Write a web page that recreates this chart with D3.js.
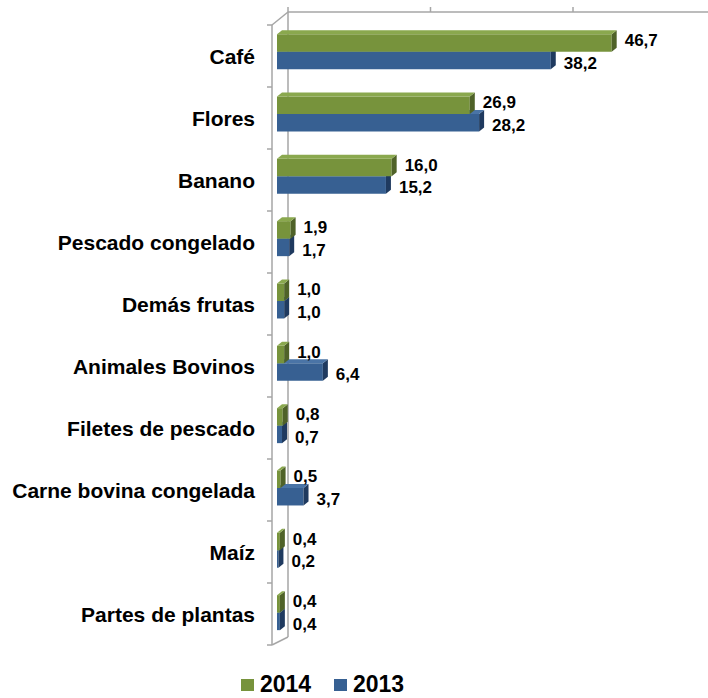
<!DOCTYPE html>
<html>
<head>
<meta charset="utf-8">
<script src="https://cdn.jsdelivr.net/npm/d3@7"></script>
<style>
  html, body { margin: 0; padding: 0; background: #fff; }
  svg { display: block; font-family: "Liberation Sans", Arial, sans-serif; }
</style>
</head>
<body>
<svg id="chart" width="708" height="698"></svg>
<script>
const categories = ["Café", "Flores", "Banano", "Pescado congelado", "Demás frutas",
  "Animales Bovinos", "Filetes de pescado", "Carne bovina congelada", "Maíz", "Partes de plantas"];
const values2014 = [46.7, 26.9, 16.0, 1.9, 1.0, 1.0, 0.8, 0.5, 0.4, 0.4];
const values2013 = [38.2, 28.2, 15.2, 1.7, 1.0, 6.4, 0.7, 3.7, 0.2, 0.4];
const seriesNames = ["2014", "2013"];
const valueTicks = [0, 20, 40, 60];

const colors = {
  "2014": { front: "#77933c", side: "#4f6228", top: "#8aa84e" },
  "2013": { front: "#376092", side: "#1f3a5f", top: "#4a74a6" }
};

const svg = d3.select("#chart");
const fmt = v => d3.format(".1f")(v).replace(".", ",");

// scales: front plane (axis), mid plane (bars), back plane (wall)
const yFront = d3.scaleBand().domain(categories).range([25, 645]);
const yBars = d3.scaleBand().domain(categories).range([20.5, 643.8]);
const xBars = d3.scaleLinear().domain([0, 60]).range([277, 277 + 430]);
const xBack = d3.scaleLinear().domain([0, 60]).range([288, 288 + 427.5]);

const depth = { dx: 5, dy: -4 };
const barH = 17.5;
const gray = "#a6a6a6";

// walls / axes
const wall = svg.append("g").attr("stroke", gray).attr("stroke-width", 1.5).attr("fill", "none");
const topBack = 12, bottomBack = 637;
wall.append("line").attr("x1", xBack(0)).attr("x2", 708).attr("y1", topBack).attr("y2", topBack);
wall.append("line").attr("x1", xBack(0)).attr("x2", xBack(0)).attr("y1", topBack).attr("y2", bottomBack);
wall.append("line").attr("x1", 272).attr("x2", 272).attr("y1", yFront.range()[0]).attr("y2", yFront.range()[1]);
wall.append("line").attr("x1", 272).attr("x2", xBack(0)).attr("y1", yFront.range()[0]).attr("y2", topBack);
wall.append("line").attr("x1", 272).attr("x2", xBack(0)).attr("y1", yFront.range()[1]).attr("y2", bottomBack);
// value ticks on the back top edge
wall.selectAll("line.vt").data(valueTicks.filter(v => xBack(v) < 708)).join("line")
  .attr("class", "vt")
  .attr("x1", d => xBack(d)).attr("x2", d => xBack(d))
  .attr("y1", topBack - 5).attr("y2", topBack);
// category ticks on front axis
const tickYs = categories.map(c => yFront(c)).concat([yFront.range()[1]]);
wall.selectAll("line.ct").data(tickYs).join("line")
  .attr("class", "ct")
  .attr("x1", 267).attr("x2", 272)
  .attr("y1", d => d).attr("y2", d => d);

// bars
function drawBar(g, v, yTop, col) {
  const x0 = xBars(0), x1 = xBars(v);
  const yB = yTop + barH;
  const { dx, dy } = depth;
  g.append("path")
    .attr("d", `M${x0},${yTop}L${x1},${yTop}L${x1},${yB}L${x0},${yB}Z`)
    .attr("fill", col.front);
  g.append("path")
    .attr("d", `M${x1},${yTop}L${x1 + dx},${yTop + dy}L${x1 + dx},${yB + dy}L${x1},${yB}Z`)
    .attr("fill", col.side);
  g.append("path")
    .attr("d", `M${x0},${yTop}L${x0 + dx},${yTop + dy}L${x1 + dx},${yTop + dy}L${x1},${yTop}Z`)
    .attr("fill", col.top);
}

const barsG = svg.append("g");
categories.forEach((c, i) => {
  const center = yBars(c) + yBars.bandwidth() / 2;
  const g = barsG.append("g");
  drawBar(g, values2013[i], center, colors["2013"]);
  drawBar(g, values2014[i], center - barH, colors["2014"]);
});

// value labels
const labelsG = svg.append("g").attr("font-size", "17px").attr("font-weight", "bold").attr("fill", "#000");
categories.forEach((c, i) => {
  const center = yBars(c) + yBars.bandwidth() / 2;
  labelsG.append("text")
    .attr("x", xBars(values2014[i]) + 13)
    .attr("y", center - barH / 2 - 3)
    .attr("dy", "0.36em")
    .text(fmt(values2014[i]));
  labelsG.append("text")
    .attr("x", xBars(values2013[i]) + 13)
    .attr("y", center + barH / 2 + 2)
    .attr("dy", "0.36em")
    .text(fmt(values2013[i]));
});

// category labels
svg.append("g").attr("font-size", "21px").attr("font-weight", "bold").attr("text-anchor", "end")
  .selectAll("text").data(categories).join("text")
  .attr("x", 255)
  .attr("y", d => yFront(d) + yFront.bandwidth() / 2)
  .attr("dy", "0.36em")
  .text(d => d);

// legend
const legendX = { "2014": 241, "2013": 334 };
const legend = svg.append("g").attr("font-size", "23px").attr("font-weight", "bold");
seriesNames.forEach(s => {
  legend.append("rect").attr("x", legendX[s]).attr("y", 679).attr("width", 13).attr("height", 12)
    .attr("fill", colors[s].front);
  legend.append("text").attr("x", legendX[s] + 19).attr("y", 692).text(s);
});
</script>
</body>
</html>
